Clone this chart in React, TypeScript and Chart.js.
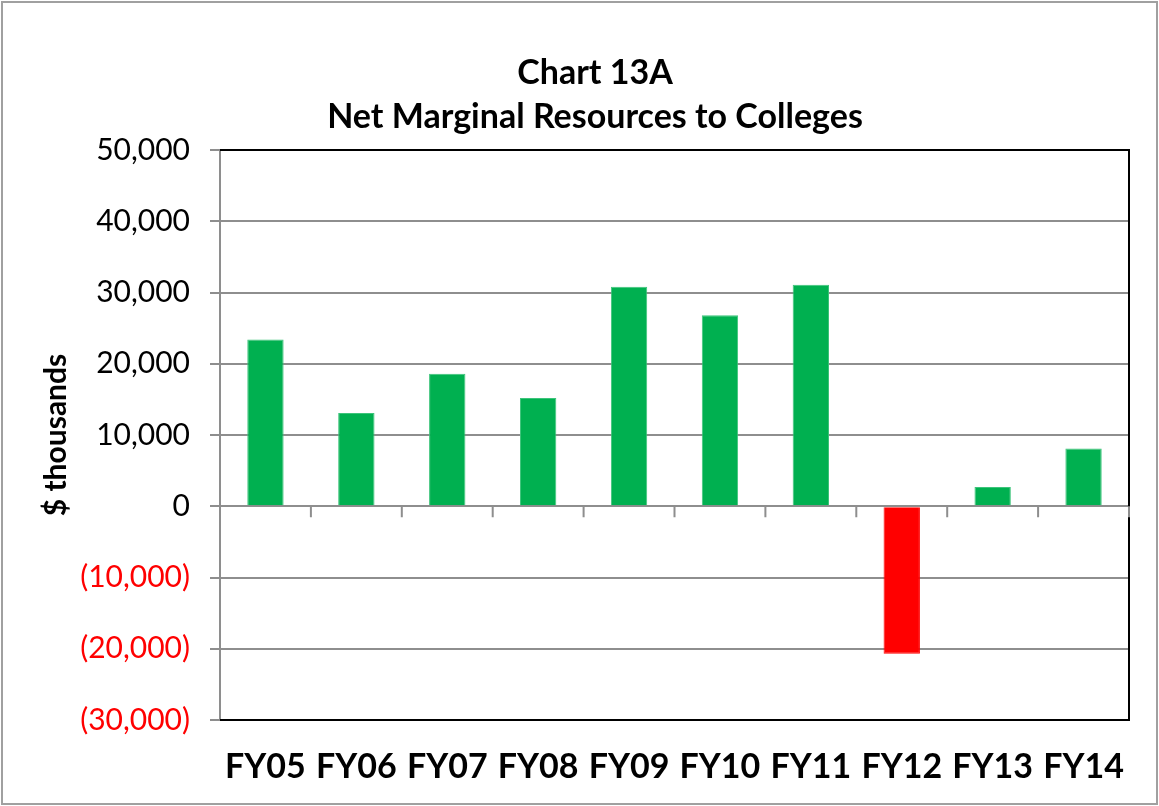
import React, { useEffect, useRef } from "react";
import { Chart, registerables } from "chart.js";

Chart.register(...registerables);

const categories = ["FY05", "FY06", "FY07", "FY08", "FY09", "FY10", "FY11", "FY12", "FY13", "FY14"];
const netResources = [23400, 13100, 18600, 15200, 30800, 26800, 31100, -20700, 2700, 8100];
const titleLines = ["Chart 13A", "Net Marginal Resources to Colleges"];
const yAxisTitle = "$ thousands";
const yMin = -30000;
const yMax = 50000;
const yStep = 10000;

const FONT = "Lato, 'Open Sans', sans-serif";
const GRID = "#8e8e8e";

function fmt(v: number): string {
  const s = Math.abs(v).toLocaleString("en-US");
  return v < 0 ? `(${s})` : s;
}

const decorPlugin = {
  id: "decor",
  afterDraw(chart: any) {
    const { ctx, chartArea } = chart;
    const xs = chart.scales.x;
    const ys = chart.scales.y;
    const { left, right, top, bottom } = chartArea;
    ctx.save();
    // outer border
    ctx.strokeStyle = "#a0a0a0";
    ctx.lineWidth = 2;
    ctx.strokeRect(2, 2, chart.width - 4, chart.height - 4);
    // zero line ticks
    const zy = ys.getPixelForValue(0);
    ctx.strokeStyle = GRID;
    ctx.lineWidth = 2;
    ctx.beginPath();
    for (let i = 0; i < categories.length; i++) {
      const xb = i < categories.length - 1
        ? (xs.getPixelForValue(i) + xs.getPixelForValue(i + 1)) / 2
        : right;
      ctx.moveTo(xb, zy);
      ctx.lineTo(xb, zy + 11);
    }
    ctx.stroke();
    // black frame top, right, bottom
    ctx.strokeStyle = "#000";
    ctx.lineWidth = 2;
    ctx.beginPath();
    ctx.moveTo(left, top);
    ctx.lineTo(right, top);
    ctx.lineTo(right, bottom);
    ctx.lineTo(left, bottom);
    ctx.stroke();
    // right zero tick on top of frame
    ctx.strokeStyle = GRID;
    ctx.beginPath();
    ctx.moveTo(right, zy);
    ctx.lineTo(right, zy + 11);
    ctx.stroke();
    // title
    ctx.fillStyle = "#000";
    ctx.textAlign = "center";
    ctx.textBaseline = "middle";
    ctx.font = `bold 34px ${FONT}`;
    ctx.fillText(titleLines[0], 595, 73);
    ctx.fillText(titleLines[1], 595, 117);
    // y axis title
    ctx.translate(56, (top + bottom) / 2);
    ctx.rotate(-Math.PI / 2);
    ctx.font = `bold 30px ${FONT}`;
    ctx.fillText(yAxisTitle, 0, 0);
    ctx.restore();
  },
};

export default function App() {
  const ref = useRef<HTMLCanvasElement | null>(null);
  useEffect(() => {
    if (!ref.current) return;
    const chart = new Chart(ref.current, {
      type: "bar",
      data: {
        labels: categories,
        datasets: [
          {
            data: netResources,
            backgroundColor: netResources.map((v) => (v < 0 ? "#FF0000" : "#00B050")),
            borderColor: netResources.map((v) => (v < 0 ? "#FF0000" : "#3cc47a")),
            borderWidth: 1,
            barPercentage: 0.4,
            categoryPercentage: 1,
          },
        ],
      },
      options: {
        responsive: false,
        devicePixelRatio: 1,
        animation: false,
        layout: { padding: { top: 150, right: 30, left: 0, bottom: 0 } },
        plugins: { legend: { display: false }, tooltip: { enabled: false }, title: { display: false } },
        scales: {
          x: {
            grid: { display: false, drawTicks: false },
            border: { display: false },
            ticks: {
              color: "#000",
              font: { family: FONT, size: 34, weight: "bold" },
              padding: 27,
              maxRotation: 0,
            },
            afterFit: (s: any) => {
              s.height = 86;
            },
          },
          y: {
            min: yMin,
            max: yMax,
            grid: { color: GRID, lineWidth: 2, tickLength: 10, tickColor: GRID },
            border: { color: GRID, width: 2 },
            ticks: {
              stepSize: yStep,
              padding: 20,
              font: { family: FONT, size: 30 },
              color: (c: any) => (c.tick && c.tick.value < 0 ? "#FF0000" : "#000"),
              callback: (v: any) => fmt(Number(v)),
            },
            afterFit: (s: any) => {
              s.width = 220;
            },
          },
        },
      },
      plugins: [decorPlugin],
    });
    return () => chart.destroy();
  }, []);
  return (
    <div style={{ position: "fixed", left: 0, top: 0, width: 1159, height: 806, background: "#fff" }}>
      <canvas ref={ref} width={1159} height={806} style={{ display: "block" }} />
    </div>
  );
}
